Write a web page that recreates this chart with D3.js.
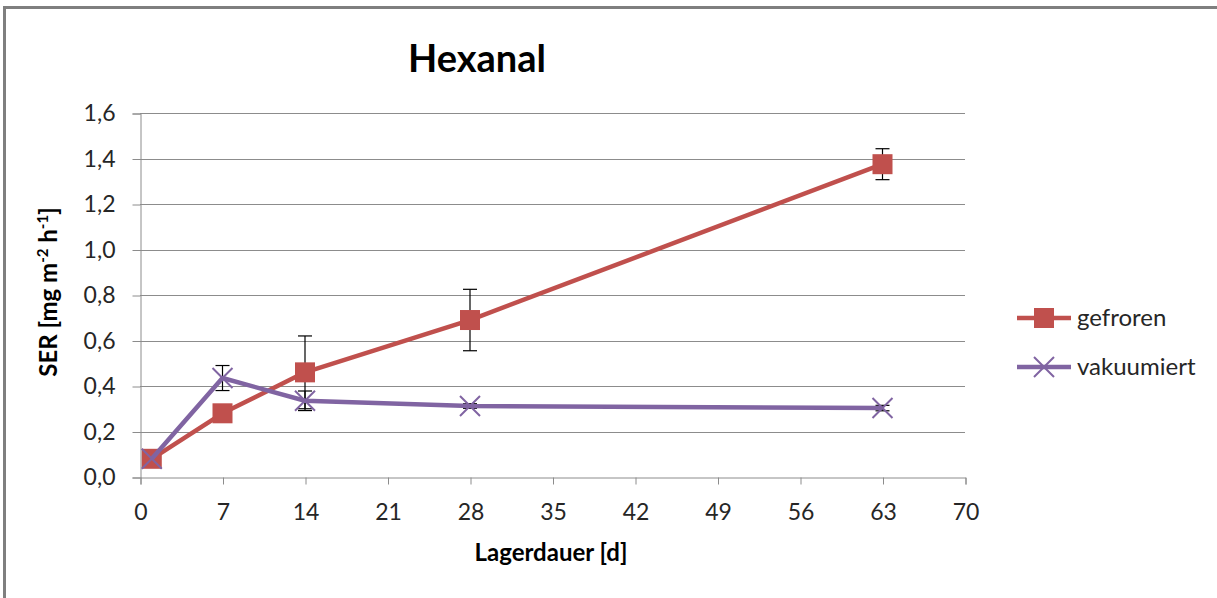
<!DOCTYPE html>
<html><head><meta charset="utf-8">
<script src="https://cdn.jsdelivr.net/npm/d3@7"></script>
<style>body{margin:0;background:#fff}svg{display:block}text{font-family:Lato,"Open Sans",sans-serif}</style>
</head><body>
<svg id="c" width="1217" height="598"></svg>
<script>
const days = [1, 7, 14, 28, 63];
const gefroren = [0.08, 0.28, 0.46, 0.69, 1.375];
const gefrorenErr = [0.01, 0.02, 0.16, 0.135, 0.068];
const vakuumiert = [0.08, 0.435, 0.335, 0.312, 0.303];
const vakuumiertErr = [0.01, 0.055, 0.043, 0.01, 0.012];
const xTicks = [0, 7, 14, 21, 28, 35, 42, 49, 56, 63, 70];
const yTicks = [0, 0.2, 0.4, 0.6, 0.8, 1.0, 1.2, 1.4, 1.6];
const seriesNames = ["gefroren", "vakuumiert"];
const colors = ["#C0504D", "#8064A2"];

const svg = d3.select("#c");
svg.append("path").attr("d","M4.5,598 L4.5,7.5 L1217,7.5").attr("fill","none").attr("stroke","#7f7f7f").attr("stroke-width",3);

const x = d3.scaleLinear().domain([0,70]).range([140,965]);
const y = d3.scaleLinear().domain([0,1.6]).range([477,113]);
const fmt = d => d.toFixed(1).replace(".", ",");

svg.append("g").selectAll("line").data(yTicks.slice(1)).join("line")
  .attr("x1",140).attr("x2",965).attr("y1",d=>Math.round(y(d))+0.5).attr("y2",d=>Math.round(y(d))+0.5)
  .attr("stroke","#8c8c8c").attr("stroke-width",1);

const ya = svg.append("g").attr("transform","translate(140.5,0.5)")
  .call(d3.axisLeft(y).tickValues(yTicks).tickFormat(fmt).tickSize(8).tickPadding(17));
ya.select(".domain").attr("stroke","#8c8c8c");
ya.selectAll(".tick line").attr("stroke","#8c8c8c");
ya.selectAll(".tick text").attr("font-size",23).attr("fill","#262626");

const xa = svg.append("g").attr("transform","translate(0.5,477.5)")
  .call(d3.axisBottom(x).tickValues(xTicks).tickSize(7));
xa.select(".domain").attr("stroke","#8c8c8c");
xa.selectAll(".tick line").attr("stroke","#8c8c8c");
xa.selectAll(".tick text").attr("font-size",23).attr("fill","#262626").attr("y",42).attr("dy",0);

svg.append("text").attr("x",477).attr("y",72).attr("text-anchor","middle")
  .attr("font-size",38).attr("font-weight","bold").attr("fill","#000").text("Hexanal");

svg.append("text").attr("x",551).attr("y",561).attr("text-anchor","middle")
  .attr("font-size",24).attr("font-weight","bold").text("Lagerdauer [d]");
const yt = svg.append("text").attr("transform","translate(57,292) rotate(-90)").attr("text-anchor","middle")
  .attr("font-size",24).attr("font-weight","bold");
yt.append("tspan").text("SER [mg m");
yt.append("tspan").attr("font-size",15).attr("dy",-9).text("-2");
yt.append("tspan").attr("dy",9).text(" h");
yt.append("tspan").attr("font-size",15).attr("dy",-9).text("-1");
yt.append("tspan").attr("dy",9).text("]");

const data = [gefroren, vakuumiert];
const errs = [gefrorenErr, vakuumiertErr];
const line = d3.line().x((d,i)=>x(days[i])).y(d=>y(d));

data.forEach((s,k)=>{
  const g = svg.append("g");
  s.forEach((v,i)=>{
    const cx = x(days[i]), e = errs[k][i];
    g.append("line").attr("x1",cx).attr("x2",cx).attr("y1",y(v+e)).attr("y2",y(v-e)).attr("stroke","#000").attr("stroke-width",1.2);
    [v+e, v-e].forEach(t=>g.append("line").attr("x1",cx-7).attr("x2",cx+7).attr("y1",y(t)).attr("y2",y(t)).attr("stroke","#000").attr("stroke-width",1.2));
  });
});

function marker(g, k, cx, cy){
  if(k===0){
    g.append("rect").attr("x",cx-10).attr("y",cy-10).attr("width",20).attr("height",20).attr("fill",colors[0]);
  } else {
    g.append("path").attr("d",`M${cx-10},${cy-10}L${cx+10},${cy+10}M${cx-10},${cy+10}L${cx+10},${cy-10}`)
      .attr("stroke",colors[1]).attr("stroke-width",2).attr("fill","none");
  }
}

data.forEach((s,k)=>{
  svg.append("path").datum(s).attr("d",line).attr("fill","none").attr("stroke",colors[k]).attr("stroke-width",4.5).attr("stroke-linejoin","round");
  const g = svg.append("g");
  s.forEach((v,i)=>marker(g,k,x(days[i]),y(v)));
});

seriesNames.forEach((n,k)=>{
  const ly = 318 + k*49;
  svg.append("line").attr("x1",1017).attr("x2",1071).attr("y1",ly).attr("y2",ly).attr("stroke",colors[k]).attr("stroke-width",4.5);
  marker(svg.append("g"),k,1044,ly);
  svg.append("text").attr("x",1077).attr("y",ly+8).attr("font-size",24).attr("fill","#262626").text(n);
});
</script>
</body></html>
